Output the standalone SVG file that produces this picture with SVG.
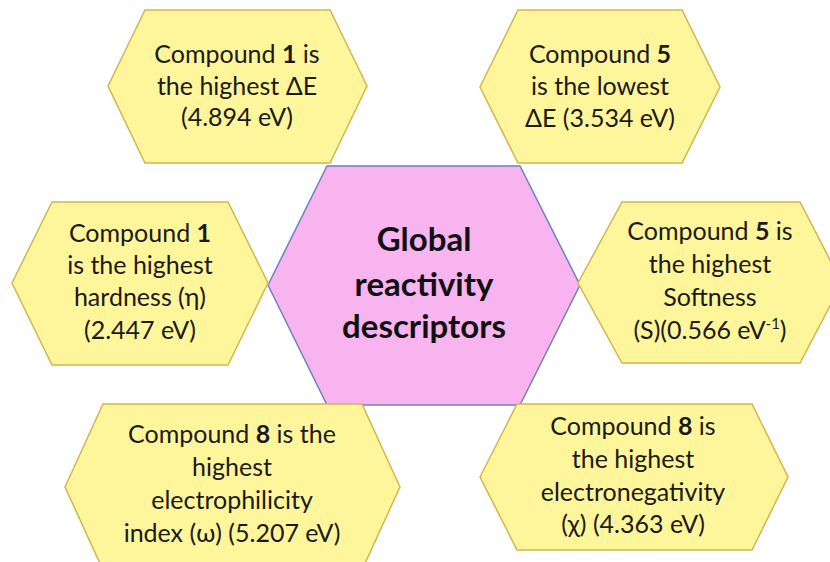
<svg xmlns="http://www.w3.org/2000/svg" width="830" height="562" viewBox="0 0 830 562">
<style>
.hy{fill:#FFF59A;stroke:#D4B54E;stroke-width:1.5}
.hp{fill:#F8B4EE;stroke:#6F80C0;stroke-width:1.5}
.t{font-family:Lato,"Open Sans","Liberation Sans",sans-serif;font-size:25px;fill:#1a1a1a;text-anchor:middle}
.tc{font-family:Lato,"Open Sans","Liberation Sans",sans-serif;font-size:33px;font-weight:bold;fill:#111;text-anchor:middle}
.b{font-weight:bold}
</style>
<rect width="830" height="562" fill="#fff"/>
<g id="connectors"></g>
<g id="n-tl">
<polygon class="hy" points="108,86 145,10 330,10 367,86 330,163 145,163"/>
<text class="t" x="237" y="63">Compound <tspan class="b">1</tspan> is</text>
<text class="t" x="237" y="95">the highest ΔE</text>
<text class="t" x="237" y="126">(4.894 eV)</text>
</g>
<g id="n-tr">
<polygon class="hy" points="480,87 518,10 682,10 720,87 682,163 518,163"/>
<text class="t" x="600" y="63">Compound <tspan class="b">5</tspan></text>
<text class="t" x="600" y="95">is the lowest</text>
<text class="t" x="600" y="127">ΔE (3.534 eV)</text>
</g>
<g id="n-center">
<polygon class="hp" points="268,285 327,166 520,166 580,285 520,405 327,405"/>
<text class="tc" x="424" y="251">Global</text>
<text class="tc" x="424" y="296">reactivity</text>
<text class="tc" x="424" y="338">descriptors</text>
</g>
<g id="n-ml">
<polygon class="hy" points="12,283 52,202 228,202 268,283 228,365 52,365"/>
<text class="t" x="140" y="242">Compound <tspan class="b">1</tspan></text>
<text class="t" x="140" y="274">is the highest</text>
<text class="t" x="140" y="306">hardness (η)</text>
<text class="t" x="140" y="339">(2.447 eV)</text>
</g>
<g id="n-mr">
<polygon class="hy" points="578,283 622,202 800,202 842,283 800,363 622,363"/>
<text class="t" x="710" y="240">Compound <tspan class="b">5</tspan> is</text>
<text class="t" x="710" y="273">the highest</text>
<text class="t" x="710" y="306">Softness</text>
<text class="t" x="710" y="339">(S)(0.566 eV<tspan font-size="15" dy="-10">-1</tspan><tspan dy="10">)</tspan></text>
</g>
<g id="n-bl">
<polygon class="hy" points="65,487 103,404 362,404 400,487 362,570 103,570"/>
<text class="t" x="232" y="443">Compound <tspan class="b">8</tspan> is the</text>
<text class="t" x="232" y="476">highest</text>
<text class="t" x="232" y="509">electrophilicity</text>
<text class="t" x="232" y="542">index (ω) (5.207 eV)</text>
</g>
<g id="n-br">
<polygon class="hy" points="480,477 517,404 752,404 788,477 752,550 517,550"/>
<text class="t" x="633" y="435">Compound <tspan class="b">8</tspan> is</text>
<text class="t" x="633" y="468">the highest</text>
<text class="t" x="633" y="501">electronegativity</text>
<text class="t" x="633" y="533">(χ) (4.363 eV)</text>
</g>
</svg>
